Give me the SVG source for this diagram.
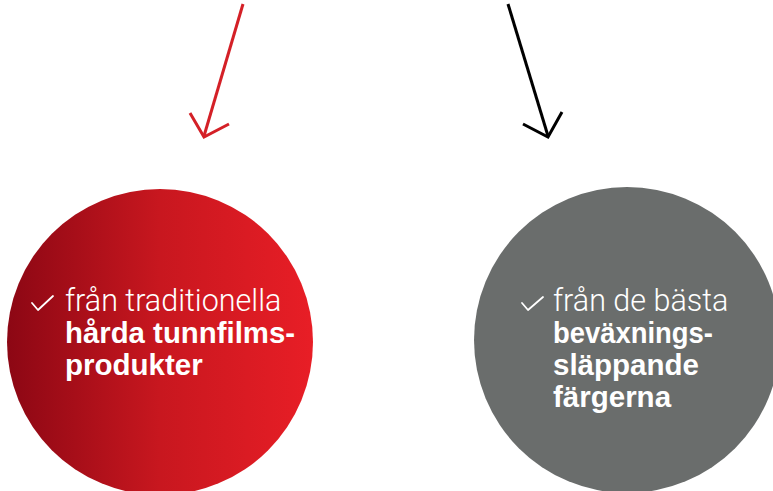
<svg xmlns="http://www.w3.org/2000/svg" width="773" height="491" viewBox="0 0 773 491">
<defs>
<linearGradient id="redGrad" x1="0" y1="0" x2="1" y2="0">
<stop offset="0" stop-color="#8c0714"/>
<stop offset="0.5" stop-color="#c8171f"/>
<stop offset="1" stop-color="#e81e26"/>
</linearGradient>
<style>
.light{font-family:Roboto,"Liberation Sans",sans-serif;font-weight:300;font-size:30.5px;fill:#fff}
.bold{font-family:"Liberation Sans",Arial,sans-serif;font-weight:bold;font-size:29.5px;fill:#fff}
.check{fill:none;stroke:#fff;stroke-width:1.8;stroke-linecap:round;stroke-linejoin:round}
.arr{fill:none;stroke-width:3;stroke-linecap:butt;stroke-linejoin:miter}
</style>
</defs>
<rect width="773" height="491" fill="#fff"/>
<g id="connectors">
<g class="arr" stroke="#d42027">
<line x1="243" y1="4" x2="204" y2="136"/>
<polyline points="190,113 204,137 229,124"/>
</g>
<g class="arr" stroke="#000">
<line x1="508" y1="4" x2="548" y2="136"/>
<polyline points="523,124 548,137 562,112"/>
</g>
</g>
<g id="node-red">
<circle cx="160" cy="342" r="153" fill="url(#redGrad)"/>
<polyline class="check" points="32,303 38,310 53,296"/>
<text class="light" x="65" y="311">från traditionella</text>
<text class="bold" x="65" y="343" textLength="230" lengthAdjust="spacingAndGlyphs">hårda tunnfilms-</text>
<text class="bold" x="65" y="375">produkter</text>
</g>
<g id="node-gray">
<circle cx="627" cy="340" r="153" fill="#6a6d6c"/>
<polyline class="check" points="522,303 528,310 543,297"/>
<text class="light" x="553" y="311">från de bästa</text>
<text class="bold" x="553" y="343" textLength="160" lengthAdjust="spacingAndGlyphs">beväxnings-</text>
<text class="bold" x="553" y="375">släppande</text>
<text class="bold" x="553" y="407">färgerna</text>
</g>
</svg>
